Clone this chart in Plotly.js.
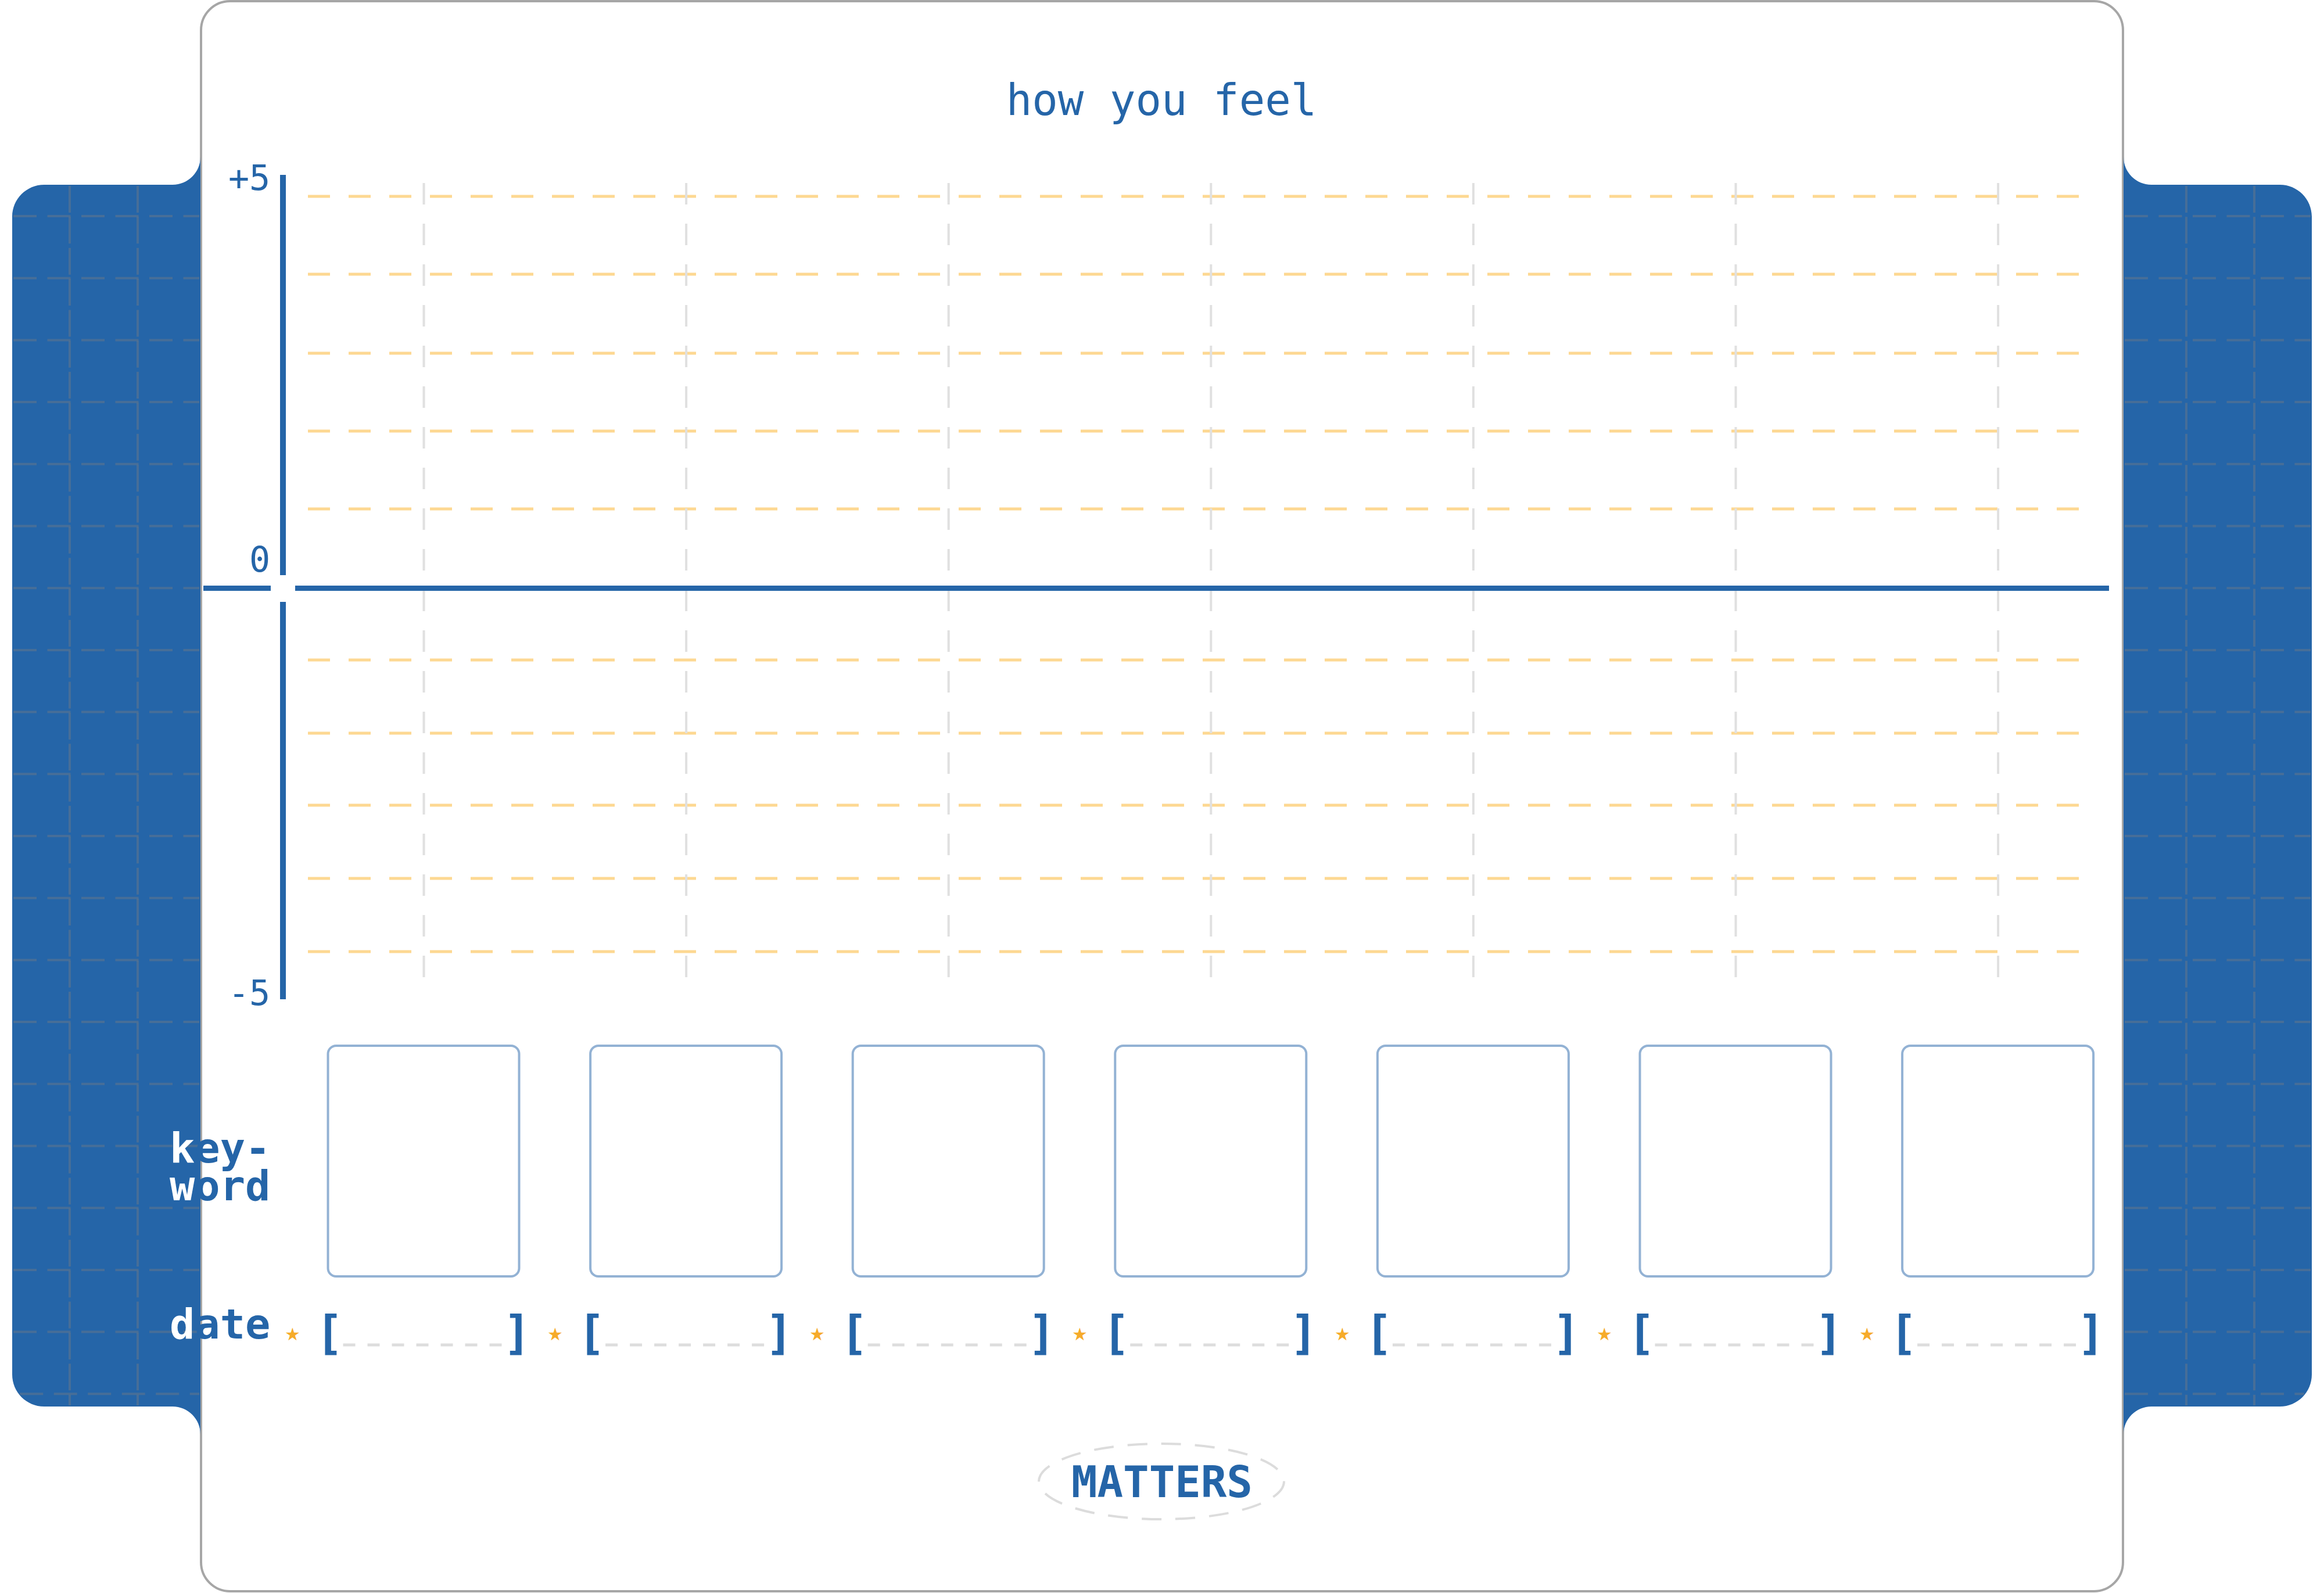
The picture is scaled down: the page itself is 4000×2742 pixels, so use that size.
<!DOCTYPE html>
<html><head><meta charset="utf-8">
<script src="https://cdn.plot.ly/plotly-3.0.1.min.js"></script>
<style>html,body{margin:0;padding:0;background:#fff;}#chart{width:4000px;height:2742px;}</style>
</head><body><div id="chart"></div>
<script>
// ---------------- data ----------------
const days = [1, 2, 3, 4, 5, 6, 7];
const moodValues = [null, null, null, null, null, null, null];
const yTickValues = [5, 0, -5];
const yTickLabels = ['+5', '0', '-5'];
const rowLabels = ['key-', 'word', 'date'];
const chartTitle = 'how you feel';
const footerText = 'MATTERS';

// ---------------- styling / layout constants ----------------
const W = 4000, H = 2742;
const BLUE = '#2565a8';
const FONT = 'DejaVu Sans Mono, monospace';
const K = 0.5523;
const px = x => x / W;
const py = y => 1 - y / H;
const fmt = n => (+n.toFixed(6)).toString();
function toPath(segs, fx, fy) {
  return segs.map(s => s[0] === 'Z' ? 'Z' :
    s[0] + s.slice(1).map(p => fmt(fx(p[0])) + ',' + fmt(fy(p[1]))).join(' ')).join(' ');
}
function roundRect(x0, y0, x1, y1, r) {
  const c = r * K;
  return [['M', [x0 + r, y0]], ['L', [x1 - r, y0]], ['C', [x1 - r + c, y0], [x1, y0 + r - c], [x1, y0 + r]],
    ['L', [x1, y1 - r]], ['C', [x1, y1 - r + c], [x1 - r + c, y1], [x1 - r, y1]],
    ['L', [x0 + r, y1]], ['C', [x0 + r - c, y1], [x0, y1 - r + c], [x0, y1 - r]],
    ['L', [x0, y0 + r]], ['C', [x0, y0 + r - c], [x0 + r - c, y0], [x0 + r, y0]], ['Z']];
}
// side tab geometry (pixels)
const TAB = {L: 21, R: 345, T: 318, B: 2421, r: 55, f: 48};
function tabSegs(mirror) {
  const {L, R, T, B, r, f} = TAB, c = r * K, g = f * K;
  const m = x => mirror ? W - x : x;
  const segs = [['M', [R, T - f]], ['C', [R, T - f + g], [R - f + g, T], [R - f, T]],
    ['L', [L + r, T]], ['C', [L + r - c, T], [L, T + r - c], [L, T + r]],
    ['L', [L, B - r]], ['C', [L, B - r + c], [L + r - c, B], [L + r, B]],
    ['L', [R - f, B]], ['C', [R - f + g, B], [R, B + f - g], [R, B + f]], ['Z']];
  return segs.map(s => s[0] === 'Z' ? s : [s[0]].concat(s.slice(1).map(p => [m(p[0]), p[1]])));
}

const shapes = [];
// card
shapes.push({type: 'path', xref: 'paper', yref: 'paper', layer: 'below',
  path: toPath(roundRect(346, 2, 3654, 2739, 50), px, py),
  fillcolor: '#ffffff', line: {color: '#a6a6a6', width: 4}});
// blue side tabs
[false, true].forEach(mir => {
  shapes.push({type: 'path', xref: 'paper', yref: 'paper', layer: 'below',
    path: toPath(tabSegs(mir), px, py), fillcolor: BLUE, line: {width: 0}});
});
// tab grid
const gridCol = 'rgba(120,125,132,0.42)';
for (let k = 0; k < 20; k++) {
  const y = 372 + 106.7 * k;
  const {L, R, T, B, r} = TAB;
  let xs = L;
  if (y < T + r) xs = L + r - Math.sqrt(Math.max(0, r * r - (T + r - y) ** 2));
  if (y > B - r) xs = L + r - Math.sqrt(Math.max(0, r * r - (y - (B - r)) ** 2));
  xs += 2;
  [[xs, R - 2], [W - R + 2, W - xs]].forEach(([a, b]) => shapes.push({type: 'line', xref: 'paper', yref: 'paper', layer: 'below',
    x0: px(a), x1: px(b), y0: py(y), y1: py(y), line: {color: gridCol, width: 4, dash: '40px,18.5px'}}));
}
[120, 237, W - 237, W - 120].forEach(x => shapes.push({type: 'line', xref: 'paper', yref: 'paper', layer: 'below',
  x0: px(x), x1: px(x), y0: py(TAB.T + 2), y1: py(TAB.B - 2), line: {color: gridCol, width: 4, dash: '46px,7.35px'}}));

// orange guide rows
const guideRowsPx = [338, 472, 608, 742, 876, 1136, 1262, 1386, 1512, 1638];
guideRowsPx.forEach(y => shapes.push({type: 'line', xref: 'paper', yref: 'paper', layer: 'below',
  x0: px(530), x1: px(3578), y0: py(y), y1: py(y), line: {color: '#fdd892', width: 5, dash: '38px,32px'}}));

// per-day vertical guides, keyword boxes, date slots
days.forEach(d => {
  shapes.push({type: 'line', xref: 'x', yref: 'paper', layer: 'below', x0: d, x1: d,
    y0: py(315), y1: py(1682), line: {color: '#e0e0e0', width: 4, dash: '37px,33px'}});
  shapes.push({type: 'path', xref: 'x', yref: 'paper', xsizemode: 'pixel', xanchor: d, layer: 'below',
    path: toPath(roundRect(-165, 1800, 164, 2197, 14), x => x, py),
    fillcolor: 'rgba(0,0,0,0)', line: {color: '#93b2d4', width: 4}});
  shapes.push({type: 'line', xref: 'x', yref: 'paper', xsizemode: 'pixel', xanchor: d, layer: 'below',
    x0: -139, x1: 145, y0: py(2315), y1: py(2315), line: {color: '#dddddd', width: 5, dash: '21px,21px'}});
});
// footer ellipse
shapes.push({type: 'circle', xref: 'paper', yref: 'paper', layer: 'below',
  x0: px(1788), x1: px(2210), y0: py(2615), y1: py(2485), line: {color: '#dcdcdc', width: 4, dash: '34px,24px'}});
// white gap where axis and zero line cross
shapes.push({type: 'rect', xref: 'paper', yref: 'paper', layer: 'above',
  x0: px(466), x1: px(508), y0: py(1036), y1: py(990), fillcolor: '#ffffff', line: {width: 0}});

// annotations
const annotations = [];
const tickShift = [0, 50, 11];
yTickValues.forEach((v, i) => annotations.push({xref: 'paper', x: px(467), xanchor: 'right', yref: 'y', y: v,
  yanchor: 'middle', yshift: tickShift[i], text: yTickLabels[i], showarrow: false,
  font: {family: FONT, size: 60, color: BLUE}}));
const rowY = [1976, 2041, 2279];
rowLabels.forEach((t, i) => annotations.push({xref: 'paper', x: px(467), xanchor: 'right', yref: 'paper', y: py(rowY[i]),
  yanchor: 'middle', showarrow: false,
  text: '<span style="color:#ffffff">' + t[0] + '</span>' + t.slice(1),
  font: {family: FONT, size: 72, color: BLUE, weight: 'bold'}}));
days.forEach(d => {
  annotations.push({xref: 'x', x: d, xshift: -163, yref: 'paper', y: py(2294), yanchor: 'middle', xanchor: 'center',
    text: '[', showarrow: false, font: {family: FONT, size: 80, color: BLUE, weight: 'bold'}});
  annotations.push({xref: 'x', x: d, xshift: 160, yref: 'paper', y: py(2294), yanchor: 'middle', xanchor: 'center',
    text: ']', showarrow: false, font: {family: FONT, size: 80, color: BLUE, weight: 'bold'}});
  annotations.push({xref: 'x', x: d - 0.5, yref: 'paper', y: py(2296), yanchor: 'middle', xanchor: 'center',
    text: '★', showarrow: false, font: {family: 'DejaVu Sans', size: 30, color: '#f6ab2a'}});
});
annotations.push({xref: 'paper', x: px(2000), yref: 'paper', y: py(2551), xanchor: 'center', yanchor: 'middle',
  text: footerText, showarrow: false, font: {family: FONT, size: 74, color: BLUE, weight: 'bold'}});

const dayPx0 = 729.5, daySpan = 451.6;
const layout = {
  width: W, height: H, autosize: false,
  margin: {l: 0, r: 0, t: 0, b: 0, pad: 0},
  paper_bgcolor: '#ffffff', plot_bgcolor: 'rgba(0,0,0,0)',
  showlegend: false,
  title: {text: chartTitle, x: 0.49975, xanchor: 'center', y: py(172), yanchor: 'middle',
    font: {family: FONT, size: 74, color: BLUE, weight: 'normal'}},
  xaxis: {domain: [px(350), px(3630)], range: [1 + (350 - dayPx0) / daySpan, 1 + (3630 - dayPx0) / daySpan],
    showgrid: false, zeroline: false, showline: false, showticklabels: false, ticks: '', fixedrange: true},
  yaxis: {domain: [py(1719.7), py(300.5)], range: [-5, 5.04], anchor: 'free', position: px(487),
    showline: true, linecolor: BLUE, linewidth: 10, showgrid: false,
    zeroline: true, zerolinecolor: BLUE, zerolinewidth: 9,
    showticklabels: false, ticks: '', fixedrange: true},
  shapes: shapes,
  annotations: annotations
};
const traces = [{type: 'scatter', mode: 'lines+markers', x: days, y: moodValues,
  line: {color: BLUE, width: 6}, marker: {color: BLUE, size: 20}, hoverinfo: 'skip'}];
Plotly.newPlot('chart', traces, layout, {staticPlot: true, displayModeBar: false});
</script></body></html>
